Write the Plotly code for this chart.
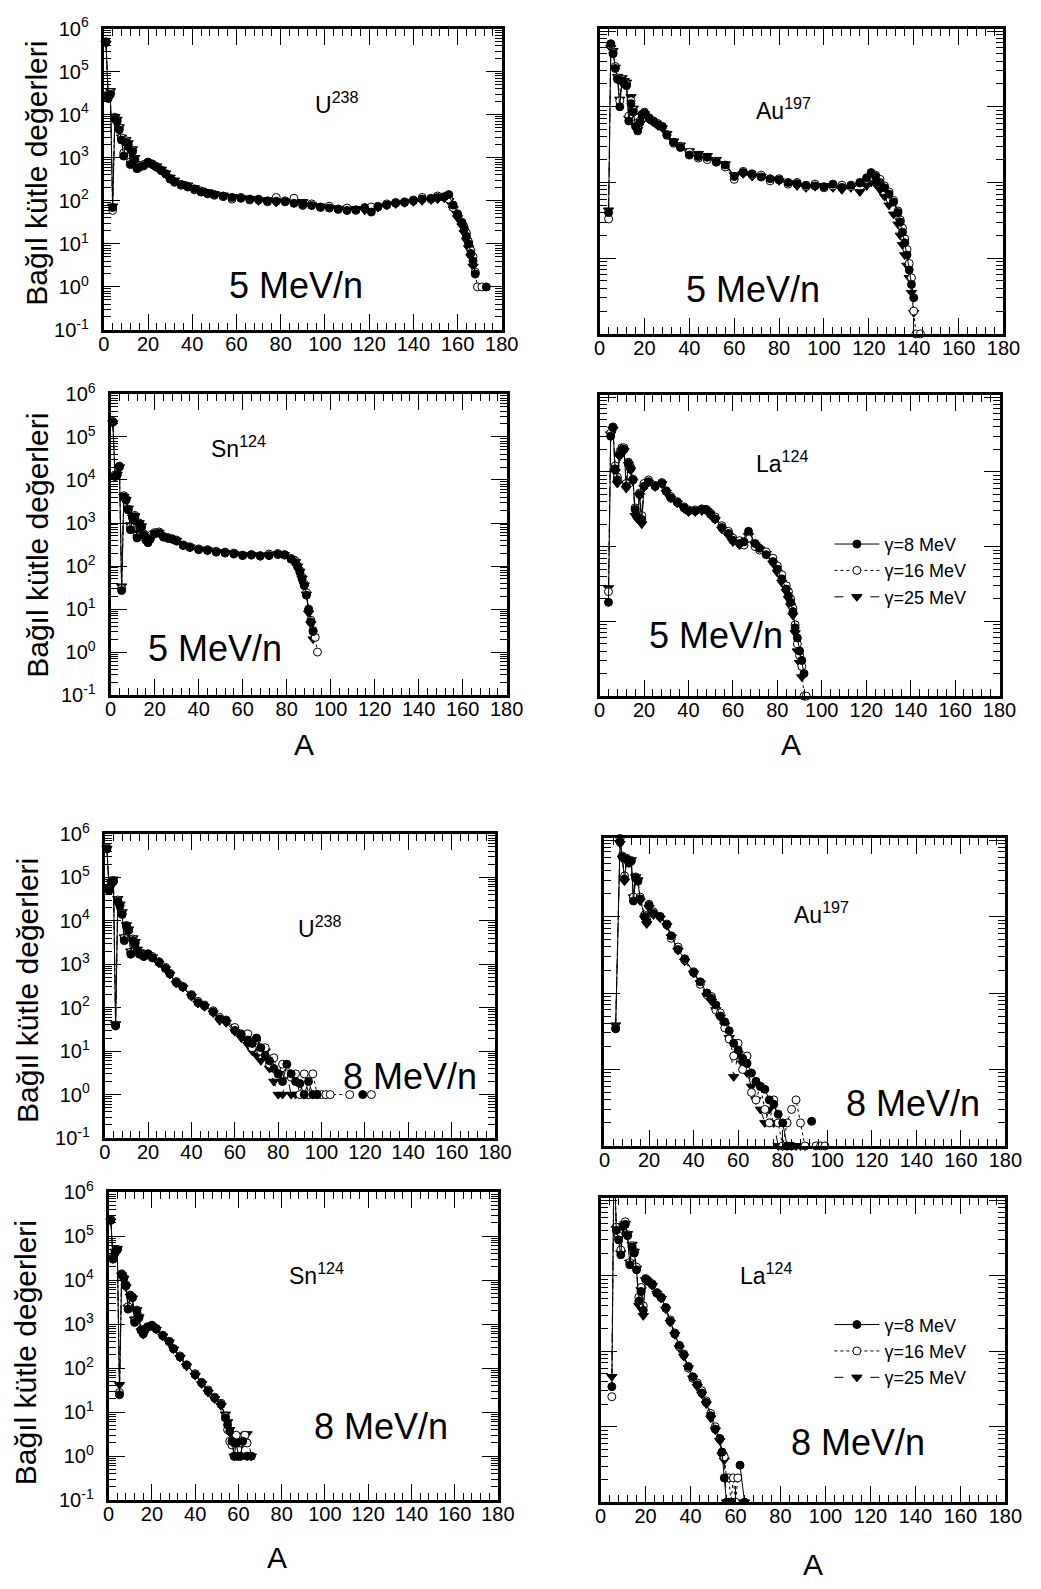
import plotly.graph_objects as go

W, H = 1041, 1589
FONT = "Liberation Sans, Arial, sans-serif"

SERIES_NAMES = ["γ=8 MeV", "γ=16 MeV", "γ=25 MeV"]
Y_TITLE = "Bağıl kütle değerleri"
X_TITLE = "A"

# ---------------- U238, 5 MeV/n ----------------
U5_A = [1, 2, 3, 4, 5, 6, 7, 8, 9, 10,
        11, 12, 13, 14, 15, 16, 18, 20, 22, 24,
        26, 28, 30, 32, 35, 38, 41, 44, 47, 50,
        54, 58, 62, 66, 70, 74, 78, 82, 86, 90,
        94, 98, 102, 106, 110, 114, 118, 121, 124, 128,
        132, 136, 140, 144, 148, 151, 154, 156, 158, 160,
        162, 163, 164, 165, 166, 167, 168, 169, 171, 173]
U5_G8 = [5.0e5, 2.4e4, 3.0e4, 70, 8000, 7000, 4500, 2600, 1100, 2300,
         2000, 700, 1400, 900, 560, 600, 650, 780, 700, 600,
         500, 420, 330, 280, 240, 210, 190, 160, 150, 140,
         130, 120, 115, 110, 105, 100, 98, 95, 88, 82,
         78, 72, 68, 65, 60, 62, 68, 55, 72, 80,
         88, 92, 100, 110, 115, 120, 125, 140, 80, 48,
         30, 22, 15, 10, 6, 4, 2, None, None, 1]
U5_G16 = [4.8e5, 2.6e4, 3.3e4, 60, 8800, 7500, 5000, 2900, 1300, 2500,
          2100, 800, 1500, 950, 600, 650, 700, 800, 720, 620,
          520, 430, 320, 270, 230, 220, 180, 170, 145, 135,
          125, 110, 120, 105, 110, 95, 120, 100, 115, 78,
          85, 70, 75, 63, 68, 60, 70, 72, 75, 85,
          92, 95, 105, 120, 110, 130, 120, 110, 70, 50,
          32, 24, 18, 11, 7, 5, 2.2, 1, 1, None]
U5_G25 = [4.6e5, 3.0e4, 3.6e4, 75, 9000, 7800, 5200, 3000, 2500, 2600,
          2200, 1500, 1600, 1000, 620, 680, 720, 760, 680, 640,
          540, 440, 350, 300, 250, 230, 200, 175, 160, 145,
          135, 125, 118, 112, 100, 105, 92, 98, 90, 95,
          80, 75, 70, 66, 62, 65, 60, 65, 70, 78,
          85, 90, 95, 100, 105, 110, 115, 100, 65, 40,
          26, 18, 12, 8, 5, 3, None, None, None, None]

# ---------------- Au197, 5 MeV/n ----------------
AU5_A = [4, 5, 6, 7, 8, 9, 10, 11, 12, 13,
         14, 15, 16, 17, 18, 19, 20, 22, 24, 26,
         28, 30, 33, 36, 40, 44, 48, 52, 56, 60,
         64, 68, 72, 76, 80, 84, 88, 92, 96, 100,
         104, 108, 112, 116, 119, 121, 123, 125, 127, 129,
         131, 133, 134, 135, 136, 137, 138, 139, 140, 141,
         143, 146]
AU5_G8 = [40, 6800, 5000, 3200, 2300, 1000, 2200, 2000, 1900, 650,
          1100, 850, 550, 480, 620, 780, 820, 700, 640, 580,
          540, 430, 340, 290, 230, 220, 215, 185, 170, 120,
          135, 130, 118, 112, 108, 100, 96, 92, 90, 88,
          95, 86, 92, 100, 115, 135, 120, 100, 85, 70,
          55, 40, 30, 22, 16, 11, 7, 4.5, 3, None,
          None, None]
AU5_G16 = [33, 6500, 5200, 3400, 2400, 1200, 2300, 2100, 2000, 750,
           1200, 900, 600, 520, 650, 800, 850, 720, 650, 600,
           550, 420, 330, 300, 250, 210, 200, 190, 160, 110,
           140, 125, 125, 105, 112, 95, 100, 88, 95, 85,
           90, 92, 88, 98, 110, 120, 125, 110, 90, 75,
           58, 42, 32, 25, 18, 13, 8.5, 5.5, 2, 1,
           1, None]
AU5_G25 = [43, 6000, 5500, 3300, 2500, 1250, 2400, 2200, 2100, 700,
           1350, 950, 580, 500, 600, 760, 800, 680, 620, 560,
           520, 440, 350, 310, 260, 240, 225, 200, 175, 125,
           130, 120, 120, 110, 105, 98, 90, 85, 88, 90,
           85, 80, 85, 75, 90, 100, 95, 80, 65, 50,
           38, 28, 20, 15, 11, 8, 5.5, 3.5, 1.9, None,
           None, 0.95]

# ---------------- Sn124, 5 MeV/n ----------------
SN5_A = [1, 2, 3, 4, 5, 6, 7, 8, 9, 10,
         11, 12, 13, 14, 15, 16, 17, 18, 20, 22,
         24, 26, 28, 30, 33, 36, 40, 44, 48, 52,
         56, 60, 64, 68, 72, 76, 79, 82, 84, 85,
         86, 87, 88, 89, 90, 91, 92, 93, 94]
SN5_G8 = [2.2e5, 1.2e4, 1.3e4, 2.0e4, 27, 4000, 3400, 2000, 700, 1300,
          1400, 450, 950, 800, 520, 400, 350, 420, 560, 580,
          470, 440, 420, 380, 300, 270, 240, 230, 210, 200,
          190, 175, 180, 170, 175, 185, 180, 145, 120, 95,
          72, 50, 35, 21, 9.5, 5, 3, None, None]
SN5_G16 = [2.3e5, 1.3e4, 1.4e4, 2.1e4, 30, 4300, 3600, 2100, 800, 1400,
           1500, 500, 1000, 820, 560, 450, 380, 450, 600, 620,
           490, 460, 430, 400, 310, 280, 250, 240, 220, 210,
           200, 180, 185, 175, 190, 195, 185, 150, 130, 100,
           78, 55, 38, 24, 10, 5.5, 3.2, 2.2, 1]
SN5_G25 = [2.1e5, 1.25e4, 1.35e4, 2.0e4, 34, 4100, 3500, 2200, 900, 1350,
           1450, 600, 1000, 850, 540, 430, 360, 430, 580, 600,
           480, 450, 425, 390, 305, 275, 245, 235, 215, 205,
           195, 178, 182, 172, 180, 190, 182, 148, 125, 98,
           75, 52, 36, 22, 8, 4.5, 2, None, None]

# ---------------- La124, 5 MeV/n ----------------
LA5_A = [4, 5, 6, 7, 8, 9, 10, 11, 12, 13,
         14, 15, 16, 17, 18, 19, 20, 22, 25, 28,
         30, 32, 35, 38, 40, 43, 46, 48, 50, 52,
         55, 58, 60, 63, 65, 67, 70, 72, 75, 78,
         80, 82, 84, 85, 86, 87, 88, 89, 90, 91,
         92, 93]
LA5_G8 = [18, 3000, 3900, 1100, 780, 1700, 2000, 2000, 640, 1300,
          1100, 780, 315, 250, 500, 230, 640, 740, 640, 700,
          550, 450, 390, 330, 300, 300, 315, 315, 270, 235,
          180, 150, 122, 110, 116, 160, 110, 95, 78, 63,
          50, 37, 27, 22, 18, 13.5, 8.2, 6, 4, 3,
          2, None]
LA5_G16 = [25, 3300, 4000, 1200, 850, 1800, 2100, 2100, 700, 1350,
           1150, 800, 330, 270, 520, 260, 700, 780, 660, 720,
           560, 470, 400, 340, 310, 310, 320, 310, 280, 250,
           190, 160, 130, 120, 105, 130, 100, 90, 85, 70,
           55, 42, 30, 25, 20, 15, 9, 5, 3.5, 2.5,
           1, 1]
LA5_G25 = [28, 3200, 3700, 1000, 700, 1600, 1900, 1900, 600, 1250,
           1050, 750, 260, 235, 480, 200, 620, 720, 630, 690,
           530, 440, 380, 320, 290, 290, 300, 305, 260, 230,
           170, 140, 115, 105, 110, 140, 105, 92, 80, 60,
           45, 33, 25, 20, 16, 12, 7, 4, 2.8, 1.8,
           None, None]

# ---------------- U238, 8 MeV/n ----------------
U8_A = [1, 2, 3, 4, 5, 6, 7, 8, 9, 10,
        11, 12, 13, 14, 15, 16, 18, 20, 22, 25,
        28, 30, 33, 36, 40, 43, 46, 50, 53, 56,
        60, 63, 66, 68, 70, 72, 74, 76, 78, 80,
        82, 84, 86, 88, 90, 92, 94, 96, 98, 100,
        102, 104, 113, 119, 123]
U8_G8 = [4.5e5, 5e4, 7e4, 8e4, 38, 2.8e4, 2.2e4, 1.4e4, 3500, 7500,
         6000, 1700, 3500, 3000, 2000, 1700, 1500, 1700, 1400, 1100,
         800, 600, 380, 300, 190, 130, 110, 80, 55, 50,
         30, 24, 18, 15, 20, 12, 8, 6, 4, 3,
         2, 5, 3, 2, 1.8, 1, 2, 1, 1, None,
         None, None, None, 1, None]
U8_G16 = [4.8e5, 5.5e4, 7.5e4, 8.5e4, 40, 3e4, 2.3e4, 1.5e4, 4000, 7800,
          6200, 1900, 3800, 3100, 2100, 1800, 1600, 1750, 1500, 1150,
          850, 620, 400, 310, 200, 140, 115, 85, 60, 52,
          35, 25, 25, 12, 18, 10, 12, 5, 7, 3,
          5, 3, 2.5, 3, 1, 3, 1, 3, 1, 1,
          1, 1, 1, None, 1]
U8_G25 = [4.6e5, 6e4, 8e4, 9e4, 42, 3.2e4, 2.4e4, 1.6e4, 4200, 8000,
          6400, 2000, 4000, 3300, 2200, 1900, 1550, 1650, 1450, 1050,
          780, 580, 360, 290, 180, 125, 105, 75, 50, 45,
          28, 20, 14, 10, 8, 6, 10, 4, 2, 1,
          1, 3, 1, 1, 1, 1, 1, 1, None, None,
          None, None, None, None, None]

# ---------------- Au197, 8 MeV/n ----------------
AU8_A = [5, 7, 8, 9, 10, 11, 12, 13, 14, 15,
         16, 18, 19, 20, 22, 25, 28, 30, 33, 36,
         40, 43, 46, 48, 50, 52, 54, 56, 58, 60,
         62, 64, 66, 68, 70, 72, 74, 76, 78, 80,
         82, 84, 86, 88, 90, 93, 95, 97, 99]
AU8_G8 = [34, 9500, 6000, 3100, 5600, 5000, 5300, 1600, 3200, 2900,
          1700, 1000, 850, 1400, 1100, 1000, 780, 560, 370, 280,
          185, 140, 100, 85, 70, 50, 42, 32, 22, 18,
          14, 12, 9, 7, 6, 5.5, 4, 3.5, 2.6, 2,
          1, 1, None, None, None, 2.1, None, None, None]
AU8_G16 = [35, 1.05e4, 6200, 3400, 5800, 5100, 5400, 1800, 3300, 3000,
           1800, 1050, 900, 1450, 1150, 1000, 800, 520, 400, 270,
           190, 130, 95, 90, 60, 55, 35, 25, 15, 22,
           10, 15, 5, 4, 6, 3, 2, 4, 2, 1,
           2, 3, 4, 2, 1, None, 1, 1, 1]
AU8_G25 = [38, 9000, 5800, 2900, 5500, 5200, 5500, 1800, 3300, 3000,
           1600, 950, 800, 1300, 1050, 950, 760, 540, 360, 260,
           180, 135, 92, 78, 60, 48, 38, 26, 8, 16,
           12, 9, 6, 4, 3, 2, 3, 2, 1, 1,
           1, 1, 1, 1, 1, None, None, None, None]

# ---------------- Sn124, 8 MeV/n ----------------
SN8_A = [1, 2, 3, 4, 5, 6, 7, 8, 9, 10,
         11, 12, 13, 14, 15, 16, 18, 20, 22, 25,
         28, 30, 33, 36, 40, 43, 46, 49, 52, 54,
         55, 56, 57, 58, 59, 60, 61, 62, 63, 64,
         66]
SN8_G8 = [2.3e5, 3e4, 4.2e4, 4.9e4, 25, 1.35e4, 1.1e4, 7400, 2200, 4400,
          4000, 1100, 2000, 1400, 720, 600, 850, 930, 780, 550,
          400, 275, 180, 117, 71, 46, 30, 21, 15, 7.4,
          5.2, 3.7, 2.2, 1, 2, 1, 1, 2.2, None, 1,
          1]
SN8_G16 = [2.4e5, 3.2e4, 4.4e4, 5e4, 28, 1.4e4, 1.15e4, 7800, 2500, 4600,
           4100, 1200, 2100, 1500, 750, 650, 880, 950, 800, 560,
           410, 280, 190, 120, 75, 48, 32, 22, 16, 8,
           4, 2.2, 1.8, 2, 3, 2, 2, 2, 3, 2,
           None]
SN8_G25 = [2.2e5, 3.3e4, 4.5e4, 5.2e4, 42, 1.3e4, 1.1e4, 7000, 2400, 4300,
           3900, 1300, 2100, 1450, 700, 580, 830, 900, 760, 530,
           390, 270, 175, 110, 68, 44, 28, 20, 14, 9,
           6, 4, 3, 1, 1, 1, 1, 2, 3, 3.2,
           1]

# ---------------- La124, 8 MeV/n ----------------
LA8_A = [5, 6, 7, 8, 9, 10, 11, 12, 13, 14,
         15, 16, 17, 18, 19, 20, 21, 23, 25, 27,
         29, 31, 33, 35, 37, 39, 41, 43, 45, 47,
         49, 51, 53, 54, 55, 56, 57, 58, 59, 60,
         61, 62, 64]
LA8_G8 = [34, 5e4, 4000, 3000, 1900, 4500, 4800, 3400, 1400, 2400,
          2000, 1200, 460, 620, 350, 900, 850, 760, 590, 510,
          380, 250, 170, 120, 89, 63, 46, 36, 28, 21,
          14, 9.3, 6.9, 4.6, 2.1, 1, 1, 1, None, None,
          None, 3.1, 1]
LA8_G16 = [25, 4e4, 4400, 3400, 2200, 4700, 5200, 3500, 1500, 2500,
           2100, 1300, 520, 700, 400, 920, 870, 780, 600, 520,
           370, 260, 175, 115, 92, 60, 44, 38, 30, 22,
           15, 10, 7, 4.6, 4, 2.1, 2.1, 1, 2.1, 1,
           2.1, None, None]
LA8_G25 = [46, 6e4, 4200, 3200, 2000, 4600, 4900, 3600, 1500, 2600,
           2100, 1250, 400, 650, 295, 880, 840, 740, 580, 500,
           360, 240, 165, 110, 85, 60, 44, 34, 27, 20,
           13, 9, 6.5, 4.2, 3.6, 1, 1, 1, 1, 1,
           None, None, 1]

# ---------------- panel layout (pixel frames: left, right, top, bottom) ----------------
PANELS = [
    dict(A=U5_A, ys=(U5_G8, U5_G16, U5_G25), frame=(100, 507, 15, 321), left=True,
         elem="U<sup>238</sup>", epos=(338, 90), energy="5 MeV/n", enpos=(297, 276),
         ytitle=(31, 162), xtitle=None, legend=None, clip=False),
    dict(A=AU5_A, ys=(AU5_G8, AU5_G16, AU5_G25), frame=(607, 1020, 15, 325), left=False,
         elem="Au<sup>197</sup>", epos=(795, 97), energy="5 MeV/n", enpos=(764, 280),
         ytitle=None, xtitle=None, legend=None, clip=False),
    dict(A=SN5_A, ys=(SN5_G8, SN5_G16, SN5_G25), frame=(107, 512, 386, 692), left=True,
         elem="Sn<sup>124</sup>", epos=(238, 440), energy="5 MeV/n", enpos=(214, 645),
         ytitle=(32, 540), xtitle=(305, 742), legend=None, clip=False),
    dict(A=LA5_A, ys=(LA5_G8, LA5_G16, LA5_G25), frame=(607, 1016, 387, 693), left=False,
         elem="La<sup>124</sup>", epos=(794, 455), energy="5 MeV/n", enpos=(726, 631),
         ytitle=None, xtitle=(803, 742), legend="legend", clip=False),
    dict(A=U8_A, ys=(U8_G8, U8_G16, U8_G25), frame=(101, 500, 833, 1142), left=True,
         elem="U<sup>238</sup>", epos=(321, 928), energy="8 MeV/n", enpos=(413, 1079),
         ytitle=(22, 992), xtitle=None, legend=None, clip=False),
    dict(A=AU8_A, ys=(AU8_G8, AU8_G16, AU8_G25), frame=(612, 1022, 837, 1150), left=False,
         elem="Au<sup>197</sup>", epos=(834, 913), energy="8 MeV/n", enpos=(927, 1107),
         ytitle=None, xtitle=None, legend=None, clip=False),
    dict(A=SN8_A, ys=(SN8_G8, SN8_G16, SN8_G25), frame=(105, 503, 1197, 1510), left=True,
         elem="Sn<sup>124</sup>", epos=(318, 1280), energy="8 MeV/n", enpos=(383, 1435),
         ytitle=(20, 1360), xtitle=(277, 1568), legend=None, clip=False),
    dict(A=LA8_A, ys=(LA8_G8, LA8_G16, LA8_G25), frame=(608, 1022, 1203, 1512), left=False,
         elem="La<sup>124</sup>", epos=(777, 1280), energy="8 MeV/n", enpos=(871, 1451),
         ytitle=None, xtitle=(825, 1575), legend="legend2", clip=True),
]

STYLES = [
    dict(line=dict(color="black", width=1, dash="solid"),
         marker=dict(symbol="circle", size=8, color="black", line=dict(color="black", width=1))),
    dict(line=dict(color="black", width=1, dash="dot"),
         marker=dict(symbol="circle", size=8, color="white", line=dict(color="black", width=1))),
    dict(line=dict(color="black", width=1, dash="dash"),
         marker=dict(symbol="triangle-down", size=9, color="black", line=dict(color="black", width=1))),
]


def fx(px):
    return px / W


def fy(py):
    return 1 - py / H


fig = go.Figure()
annotations = []
layout = dict(width=W, height=H, margin=dict(l=0, r=0, t=0, b=0),
              paper_bgcolor="white", plot_bgcolor="white",
              font=dict(family=FONT, color="black", size=20), showlegend=True)

for i, p in enumerate(PANELS, start=1):
    xa = "x" if i == 1 else f"x{i}"
    ya = "y" if i == 1 else f"y{i}"
    l, r, t, b = p["frame"]
    ylog = (-1, 6) if p["left"] else (0, 4.03)
    exps = [e for e in range(int(ylog[0]), 7) if e <= ylog[1]]
    major = [10.0 ** e for e in exps]
    ticktext = [f"10<sup>{e}</sup>" for e in exps]
    minor = [m * 10.0 ** e for e in range(int(ylog[0]), 6) for m in range(2, 10)
             if e <= ylog[1]]

    layout["xaxis" if i == 1 else f"xaxis{i}"] = dict(
        domain=[fx(l), fx(r)], anchor=ya, range=[0, 180],
        tickmode="linear", tick0=0, dtick=20,
        ticks="inside", ticklen=16, tickwidth=1, tickcolor="black",
        minor=dict(tickmode="linear", tick0=0, dtick=4, ticks="inside", ticklen=7,
                   tickwidth=1, tickcolor="black"),
        showline=True, linewidth=3, linecolor="black", mirror="ticks",
        showgrid=False, zeroline=False, ticklabelstandoff=-6,
        tickfont=dict(size=20, family=FONT, color="black"),
    )
    layout["yaxis" if i == 1 else f"yaxis{i}"] = dict(
        domain=[fy(b), fy(t)], anchor=xa, type="log", range=list(ylog),
        tickmode="array", tickvals=major, ticktext=ticktext,
        showticklabels=p["left"],
        ticks="inside", ticklen=16, tickwidth=1, tickcolor="black",
        minor=dict(tickmode="array", tickvals=minor, ticks="inside", ticklen=7,
                   tickwidth=1, tickcolor="black"),
        showline=True, linewidth=3, linecolor="black", mirror="ticks",
        showgrid=False, zeroline=False, ticklabelstandoff=8,
        tickfont=dict(size=20, family=FONT, color="black"),
    )

    for j in (2, 1, 0):
        st = STYLES[j]
        show = p["legend"] is not None
        tr = dict(x=p["A"], y=p["ys"][j], xaxis=xa, yaxis=ya,
                  mode="lines+markers", line=st["line"], marker=st["marker"],
                  name=SERIES_NAMES[j], showlegend=show, cliponaxis=p["clip"],
                  connectgaps=False, legendrank=j + 1)
        if show:
            tr["legend"] = p["legend"]
            tr["legendgroup"] = f"{p['legend']}_{j}"
        fig.add_trace(go.Scatter(**tr))

    annotations.append(dict(text=p["elem"], x=fx(p["epos"][0]), y=fy(p["epos"][1]),
                            xref="paper", yref="paper", showarrow=False,
                            xanchor="center", yanchor="middle",
                            font=dict(size=23, family=FONT, color="black")))
    annotations.append(dict(text=p["energy"], x=fx(p["enpos"][0]), y=fy(p["enpos"][1]),
                            xref="paper", yref="paper", showarrow=False,
                            xanchor="center", yanchor="middle",
                            font=dict(size=36, family=FONT, color="black")))
    if p["ytitle"]:
        annotations.append(dict(text=Y_TITLE, x=fx(p["ytitle"][0]), y=fy(p["ytitle"][1]),
                                xref="paper", yref="paper", showarrow=False, textangle=-90,
                                xanchor="center", yanchor="middle",
                                font=dict(size=30, family=FONT, color="black")))
    if p["xtitle"]:
        annotations.append(dict(text=X_TITLE, x=fx(p["xtitle"][0]), y=fy(p["xtitle"][1]),
                                xref="paper", yref="paper", showarrow=False,
                                xanchor="center", yanchor="middle",
                                font=dict(size=30, family=FONT, color="black")))

legend_common = dict(bgcolor="rgba(0,0,0,0)", borderwidth=0, itemwidth=45,
                     font=dict(size=18, family=FONT, color="black"),
                     tracegroupgap=2, traceorder="normal",
                     xanchor="left", yanchor="top", itemclick=False, itemdoubleclick=False)
layout["legend"] = dict(x=fx(842), y=fy(520), **legend_common)
layout["legend2"] = dict(x=fx(842), y=fy(1313), **legend_common)
layout["annotations"] = annotations

fig.update_layout(**layout)
fig.write_html("out.html")
